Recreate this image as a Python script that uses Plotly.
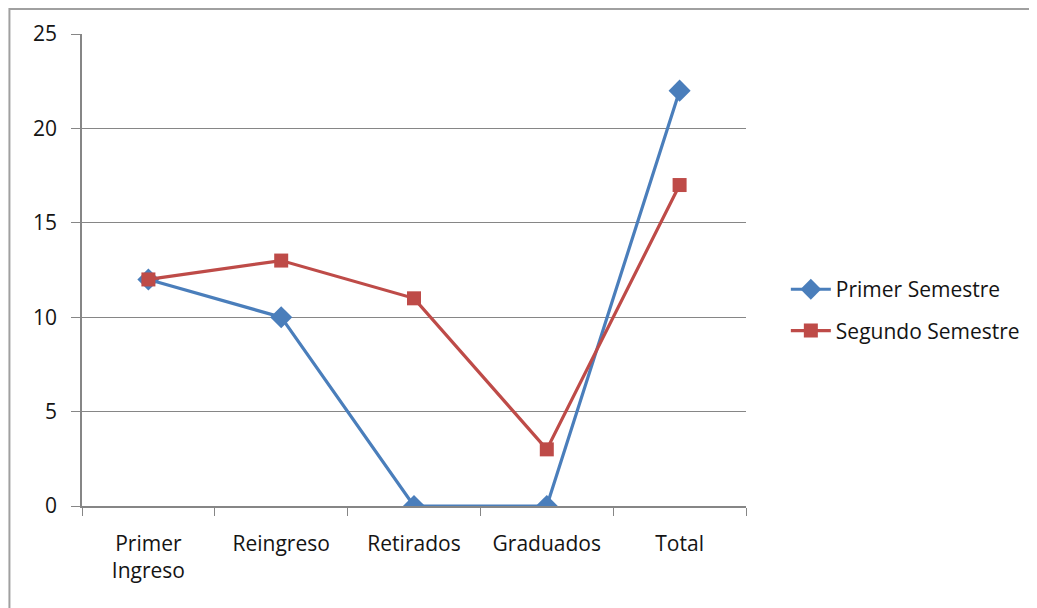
import plotly.graph_objects as go

categories = ["Primer<br>Ingreso", "Reingreso", "Retirados", "Graduados", "Total"]
primer = [12, 10, 0, 0, 22]
segundo = [12, 13, 11, 3, 17]
series_names = ["Primer Semestre", "Segundo Semestre"]

FONT = "Open Sans"
TXT = "#141414"
SIZE = 21
fig = go.Figure()
fig.add_trace(go.Scatter(x=categories, y=primer, name=series_names[0], mode="lines+markers",
                         line=dict(color="#4A7EBB", width=3.2), legendgroup="a",
                         marker=dict(symbol="diamond", size=17, color="#4A7EBB")))
fig.add_trace(go.Scatter(x=categories, y=segundo, name=series_names[1], mode="lines+markers",
                         line=dict(color="#BE4B48", width=3.2), legendgroup="b",
                         marker=dict(symbol="square", size=14, color="#BE4B48")))

fig.update_layout(
    width=1029, height=600,
    margin=dict(l=74, r=287, t=26, b=102),
    paper_bgcolor="white", plot_bgcolor="white",
    font=dict(family=FONT, size=SIZE, color=TXT),
    showlegend=True,
    legend=dict(x=1.06, y=0.415, yanchor="middle", xanchor="left",
                tracegroupgap=11, traceorder="grouped",
                font=dict(family=FONT, size=SIZE, color=TXT), itemwidth=40),
    xaxis=dict(type="category", range=[-0.5, 4.5], showgrid=False,
               showline=True, linecolor="#868686", linewidth=1.5,
               ticks="outside", tickson="boundaries", ticklen=8, tickcolor="#868686",
               ticklabelstandoff=18,
               tickfont=dict(family=FONT, size=SIZE, color=TXT)),
    yaxis=dict(range=[0, 25], dtick=5, showgrid=True, gridcolor="#868686", gridwidth=1.2,
               showline=True, linecolor="#868686", linewidth=1.5, zeroline=False,
               ticks="outside", ticklen=9, tickcolor="#868686",
               ticklabelstandoff=10,
               tickfont=dict(family=FONT, size=SIZE, color=TXT)),
)
fig.add_shape(type="rect", xref="paper", yref="paper",
              x0=-73/668, x1=1.6, y0=-0.5, y1=1 + 25/472,
              line=dict(color="#A0A0A0", width=2), layer="below")
fig.write_html("out.html")
